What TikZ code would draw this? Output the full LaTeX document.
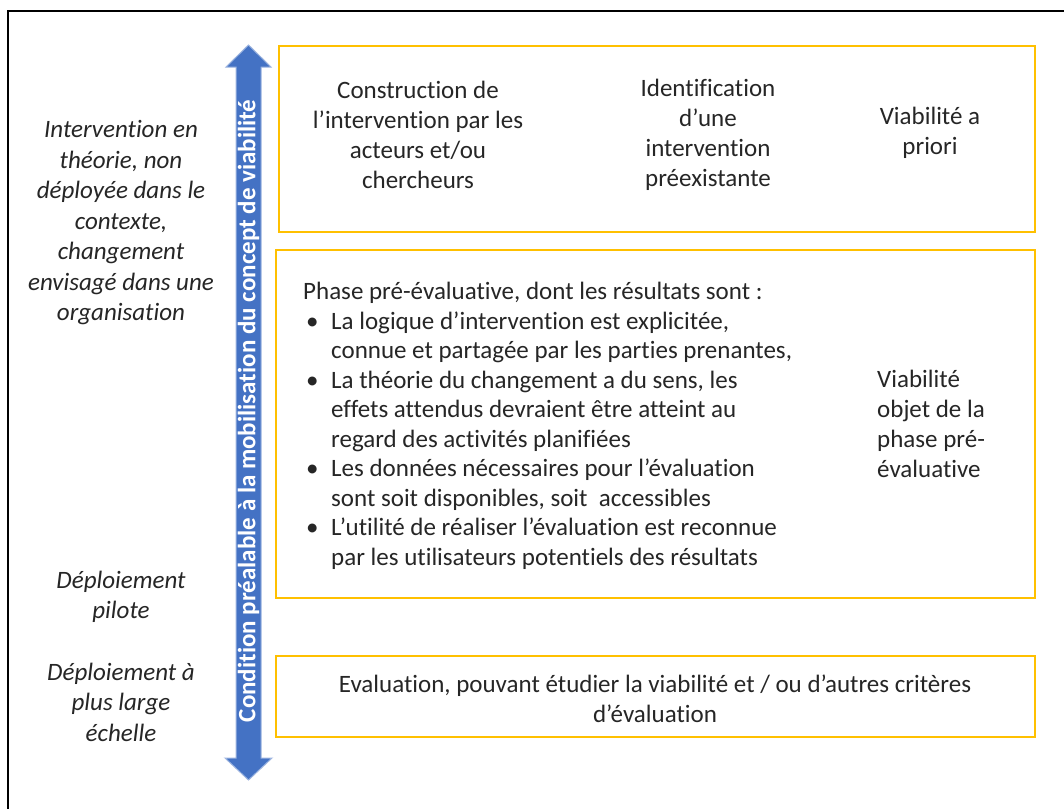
\documentclass[tikz,border=0pt]{standalone}
\usepackage{fontspec}
\setmainfont{Carlito}[Ligatures=NoCommon]
\definecolor{gold}{HTML}{FFC000}
\definecolor{abl}{HTML}{4472C4}
\definecolor{abledge}{HTML}{9DB5E0}
\definecolor{txt}{HTML}{262626}
\newcommand{\bul}{\makebox[28pt][l]{\hspace{3pt}\textbullet}}
\newcommand{\ind}{\hspace*{28pt}}
\begin{document}
\begin{tikzpicture}[x=1pt,y=-1pt,
  ybox/.style={draw=gold, line width=1.6pt},
  side/.style={font=\fontsize{25}{30.5}\selectfont\itshape, align=center, text=txt, inner sep=0pt},
  btxt/.style={font=\fontsize{25}{30}\selectfont, align=center, text=txt, inner sep=0pt},
  ltxt/.style={font=\fontsize{25}{29.5}\selectfont, align=left, text=txt, inner sep=0pt}]
\useasboundingbox (0,0) rectangle (1064,808);
\fill[white] (0,0) rectangle (1064,808);
\draw[line width=2pt] (8,11) rectangle (1090,840);

% yellow boxes
\draw[ybox] (279,46) rectangle (1035,232);
\draw[ybox] (276,250) rectangle (1035,598);
\draw[ybox] (276,656) rectangle (1035,737);

% double arrow
\draw[fill=abl, draw=abledge, line width=1pt]
  (248.5,45) -- (271,67) -- (261,67) -- (261,758) -- (272,758) -- (248.5,780)
  -- (225,758) -- (236,758) -- (236,67) -- (226,67) -- cycle;
\node[rotate=90, text=white, font=\fontsize{25}{30}\selectfont\bfseries, inner sep=0pt] (arrtxt) at (248.5,411)
  {Condition préalable à la mobilisation du concept de viabilité};

% left column
\node[side] (l1) at (121,223) {Intervention en\\théorie, non\\déployée dans le\\contexte,\\changement\\envisagé dans une\\organisation};
\node[side] (l2) at (121,597) {Déploiement\\pilote};
\node[side] (l3) at (121,702) {Déploiement à\\plus large\\échelle};

% box 1
\node[btxt] (c1) at (418,135) {Construction de\\l’intervention par les\\acteurs et/ou\\chercheurs};
\node[btxt] (c2) at (708,135) {Identification\\d’une\\intervention\\préexistante};
\node[btxt] (c3) at (930,133) {Viabilité a\\priori};

% box 2
\node[ltxt, anchor=west] (p) at (303,426) {Phase pré-évaluative, dont les résultats sont :\\
\bul La logique d’intervention est explicitée,\\
\ind connue et partagée par les parties prenantes,\\
\bul La théorie du changement a du sens, les\\
\ind effets attendus devraient être atteint au\\
\ind regard des activités planifiées\\
\bul Les données nécessaires pour l’évaluation\\
\ind sont soit disponibles, soit\ \ accessibles\\
\bul L’utilité de réaliser l’évaluation est reconnue\\
\ind par les utilisateurs potentiels des résultats};
\node[ltxt, font=\fontsize{25}{30}\selectfont, anchor=west] (v2) at (877,424) {Viabilité\\objet de la\\phase pré-\\évaluative};

% box 3
\node[btxt] (e) at (655,699) {Evaluation, pouvant étudier la viabilité et / ou d’autres critères\\d’évaluation};
\end{tikzpicture}
\end{document}
